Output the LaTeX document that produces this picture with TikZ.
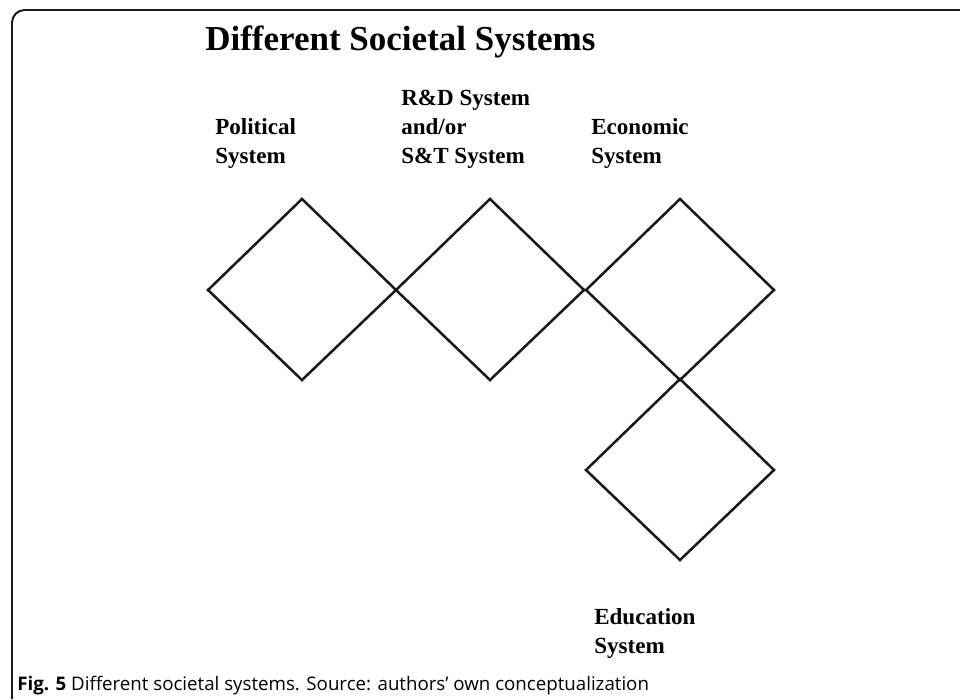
\documentclass[tikz,border=0pt]{standalone}
\usepackage{fontspec}
\setmainfont{Liberation Serif}
\newfontfamily\capfont{Open Sans}

\tikzset{
  systembox/.style={line width=1.8pt, draw=black!90},
  syslabel/.style={font=\bfseries\fontsize{16.4}{20.6}\selectfont, align=left, anchor=base west, inner sep=0pt},
}

\begin{document}
\begin{tikzpicture}[x=0.025cm, y=-0.025cm]

\useasboundingbox (0,0) rectangle (960,699);

% frame of the figure
\draw[line width=1.4pt, black!90, rounded corners=9pt] (12,699) -- (12,10) -- (960,10);

\node[font=\bfseries\fontsize{24.9}{30}\selectfont, anchor=base west, inner sep=0pt] (title) at (205,50) {Different Societal Systems};

% the four systems
\foreach \cx/\cy in {302/290, 490/290, 680/290, 680/470}
    \draw[systembox] (\cx-94,\cy) -- (\cx,\cy-91) -- (\cx+94,\cy) -- (\cx,\cy+90) -- cycle;

% anchor is the baseline of the last line
\node[syslabel] (political) at (215,163) {Political\\System};
\node[syslabel] (research) at (401,163) {R\&D System\\and/or\\S\&T System};
\node[syslabel] (economic) at (591,163) {Economic\\System};
\node[syslabel] (education) at (594,653) {Education\\System};

\node[font=\capfont\fontsize{13.3}{15}\selectfont, anchor=base west, inner sep=0pt] (caption) at (17,690) {\textbf{Fig. 5} Different societal systems. Source: authors’ own conceptualization};

\end{tikzpicture}
\end{document}
